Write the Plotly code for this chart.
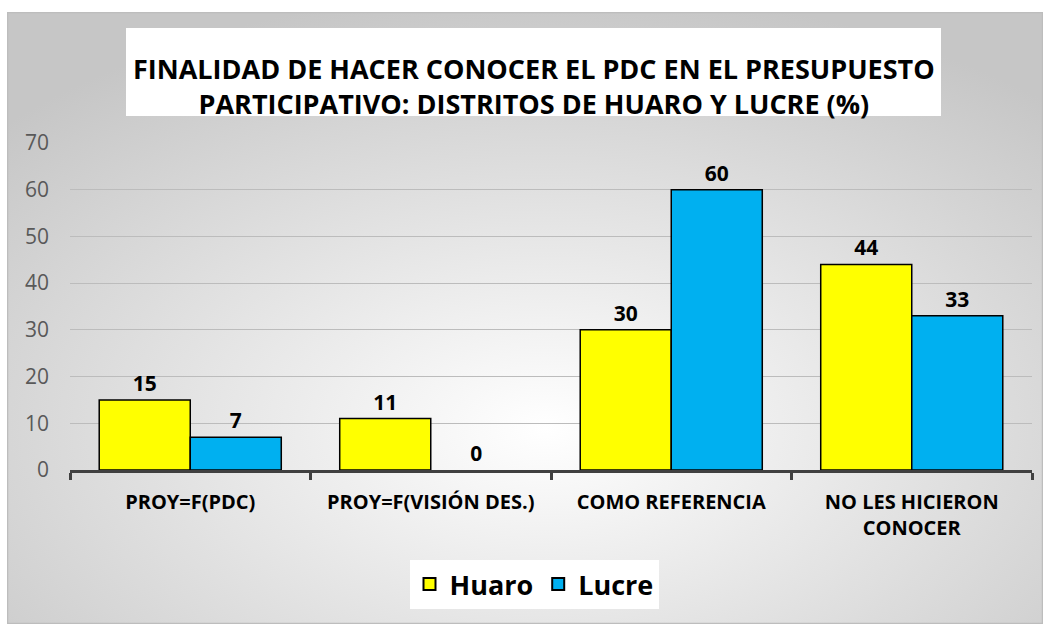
import base64
import plotly.graph_objects as go

# Survey categories and percentages per district
categories = ["PROY=F(PDC)", "PROY=F(VISIÓN DES.)", "COMO REFERENCIA", "NO LES HICIERON<br>CONOCER"]
huaro = [15, 11, 30, 44]
lucre = [7, 0, 60, 33]
y_ticks = [0, 10, 20, 30, 40, 50, 60, 70]

title_text = ("FINALIDAD DE HACER CONOCER EL PDC EN EL PRESUPUESTO<br>"
              "PARTICIPATIVO: DISTRITOS DE HUARO Y LUCRE (%)")

FONT = "Open Sans, Liberation Sans, sans-serif"

# Soft radial grey background for the chart frame
svg = (
    '<svg xmlns="http://www.w3.org/2000/svg" width="1036" height="612" '
    'preserveAspectRatio="none" viewBox="0 0 1036 612">'
    '<defs><radialGradient id="g" cx="0.52" cy="0.68" r="0.72">'
    '<stop offset="0" stop-color="#ffffff"/><stop offset="1" stop-color="#c6c6c6"/>'
    '</radialGradient></defs>'
    '<rect x="0" y="0" width="1036" height="612" fill="url(#g)"/>'
    '<rect x="0.5" y="0.5" width="1035" height="611" fill="none" stroke="#bdbdbd" stroke-width="1.5"/>'
    '</svg>'
)
bg_uri = "data:image/svg+xml;base64," + base64.b64encode(svg.encode()).decode()

label_font = dict(size=21, color="black", family=FONT, weight="bold")


def outline_widths(values):
    # no outline on empty bars so they do not leave a sliver on the axis
    return [1.5 if v else 0 for v in values]


fig = go.Figure()
fig.add_trace(go.Bar(
    x=categories, y=huaro, name="Huaro",
    marker=dict(color="#FFFF00", line=dict(color="black", width=outline_widths(huaro))),
    text=huaro, textposition="outside", cliponaxis=False, textfont=label_font,
))
fig.add_trace(go.Bar(
    x=categories, y=lucre, name="Lucre",
    marker=dict(color="#00B0F0", line=dict(color="black", width=outline_widths(lucre))),
    text=lucre, textposition="outside", cliponaxis=False, textfont=label_font,
))

# Plot area spans x 70..1032 px and y 143..470 px
L, R, T, B = 70, 16, 143, 154
PW, PH = 1048 - L - R, 624 - T - B


def px(x):
    return (x - L) / PW


def py(y):
    return (624 - B - y) / PH


shapes = [
    dict(type="rect", xref="paper", yref="paper",
         x0=px(126), x1=px(941), y0=py(116), y1=py(28),
         fillcolor="white", line=dict(width=0), layer="below"),
]

annotations = [dict(
    xref="paper", yref="paper", x=px(533.5), y=py(86),
    xanchor="center", yanchor="middle", showarrow=False,
    text=title_text, font=dict(size=27, color="black", family=FONT, weight="bold"),
)]

fig.update_layout(
    width=1048, height=624,
    margin=dict(l=L, r=R, t=T, b=B),
    paper_bgcolor="white", plot_bgcolor="rgba(0,0,0,0)",
    barmode="group", bargap=0.243, bargroupgap=0,
    font=dict(family=FONT, color="black"),
    showlegend=True,
    legend=dict(
        orientation="h", x=px(534), xanchor="center", y=py(560), yanchor="top",
        bgcolor="white", font=dict(size=27, family=FONT, color="black", weight="bold"),
        itemsizing="constant", tracegroupgap=0,
    ),
    images=[dict(
        source=bg_uri, xref="paper", yref="paper",
        x=px(7), y=py(12), sizex=1036 / PW, sizey=612 / PH,
        xanchor="left", yanchor="top", sizing="stretch", layer="below",
    )],
    shapes=shapes,
    annotations=annotations,
    xaxis=dict(
        showline=True, linecolor="#404040", linewidth=3,
        ticks="outside", tickson="boundaries", ticklen=7, tickwidth=3, tickcolor="#404040",
        tickfont=dict(size=20, color="black", family=FONT, weight="bold"),
        ticklabelstandoff=12, showgrid=False,
    ),
    yaxis=dict(
        range=[0, 70], tickvals=y_ticks, showline=False,
        showgrid=True, gridcolor="#bcbcbc", gridwidth=1, zeroline=False,
        tickfont=dict(size=21, color="#595959", family=FONT),
        ticklabelstandoff=20,
    ),
)

fig.write_html("out.html")
